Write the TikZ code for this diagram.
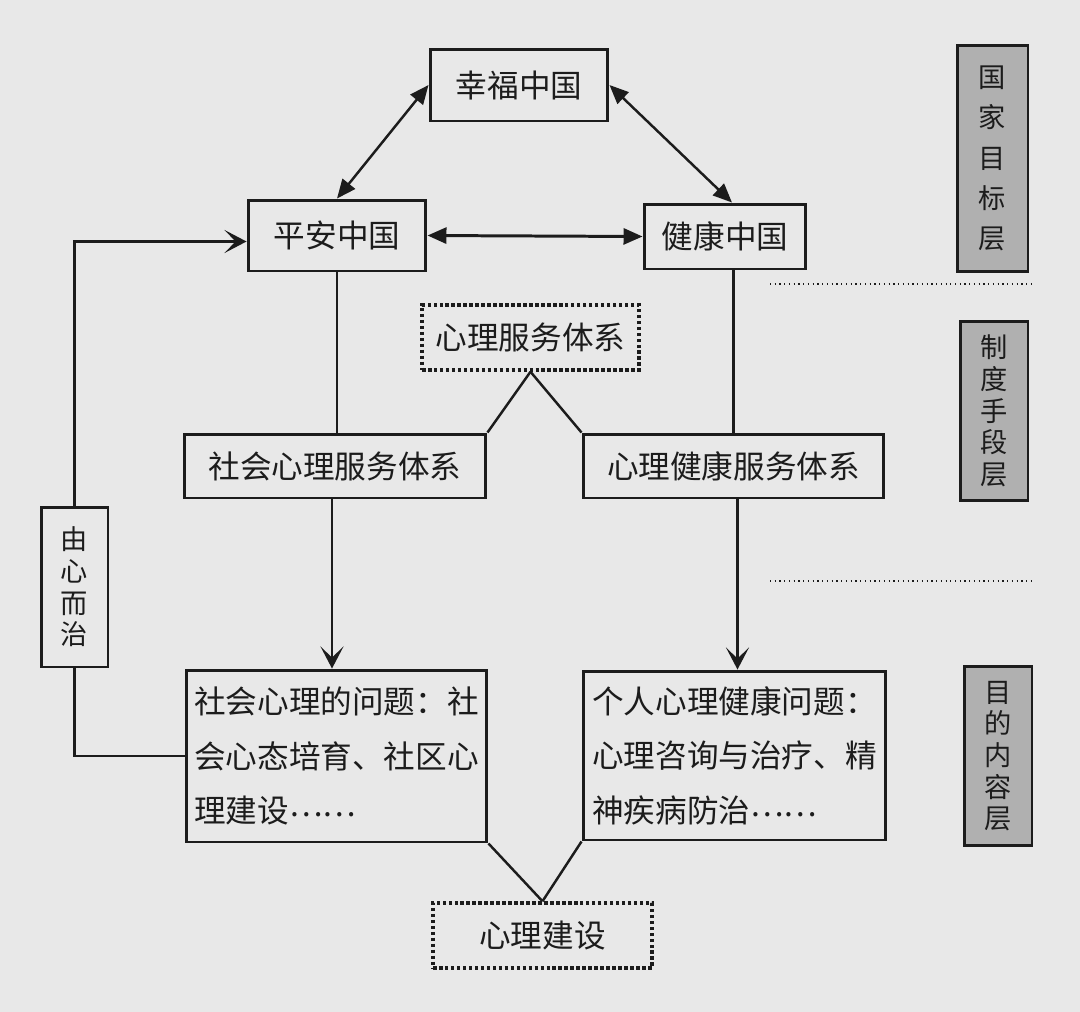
\documentclass[tikz,border=0pt]{standalone}
\usepackage{fontspec}
\setmainfont{Noto Sans CJK SC}
\usetikzlibrary{arrows.meta}
\definecolor{bgc}{RGB}{232,232,232}
\definecolor{layerc}{RGB}{176,176,176}
\definecolor{inkc}{RGB}{28,28,28}
\newcommand{\etcdots}{\raisebox{0.18em}{……}}
\tikzset{
  box/.style={draw=inkc, line width=1.7pt, fill=bgc, text=inkc, inner sep=0pt,
    font=\fontsize{18}{31}\selectfont},
  dotbox/.style={box, line width=2pt, dash pattern=on 2pt off 1.4pt},
  layer/.style={box, fill=layerc, align=center, font=\fontsize{15.5}{18}\selectfont},
  link/.style={draw=inkc, line width=1.4pt},
  both/.style={link, {Triangle[length=3.8mm,width=3.2mm]}-{Triangle[length=3.8mm,width=3.2mm]}},
  down/.style={link, -{Stealth[length=4.4mm,width=4.6mm,inset=2.2mm]}},
}

\begin{document}
\begin{tikzpicture}[x=0.02cm, y=-0.02cm]
    % background, one unit is one pixel of the reference
    \fill[bgc] (0,0) rectangle (1080,1012);
    \useasboundingbox (0,0) rectangle (1080,1012);

    % national goals
    \node[box, minimum width=3.56cm, minimum height=1.44cm] (xf) at (519,85) {幸福中国};
    \node[box, minimum width=3.56cm, minimum height=1.42cm] (pa) at (337,235.5) {平安中国};
    \node[box, minimum width=3.24cm, minimum height=1.30cm] (jk) at (725,236.5) {健康中国};

    % service systems
    \node[dotbox, minimum width=4.34cm, minimum height=1.30cm] (xlfw) at (530.5,337.5) {心理服务体系};
    \node[box, minimum width=6.04cm, minimum height=1.28cm] (shfw) at (335,466) {社会心理服务体系};
    \node[box, minimum width=6.02cm, minimum height=1.28cm] (jkfw) at (733.5,466) {心理健康服务体系};

    % contents
    \node[box, align=left, minimum width=6.02cm, minimum height=3.44cm] (shwt) at (336.5,756)
      {社会心理的问题：社\\会心态培育、社区心\\理建设\etcdots};
    \node[box, align=left, minimum width=6.06cm, minimum height=3.38cm] (grwt) at (734.5,755.5)
      {个人心理健康问题：\\心理咨询与治疗、精\\神疾病防治\etcdots};
    \node[dotbox, minimum width=4.38cm, minimum height=1.30cm] (xljs) at (542.5,935.5) {心理建设};

    \node[box, align=center, minimum width=1.34cm, minimum height=3.20cm,
      font=\fontsize{15.5}{18}\selectfont] (yxez) at (74.5,587) {由\\心\\而\\治};

    % layer labels
    \node[layer, minimum width=1.42cm, minimum height=4.54cm,
      font=\fontsize{15.5}{23}\selectfont] (gjmb) at (992.5,158.5) {国\\家\\目\\标\\层};
    \node[layer, minimum width=1.36cm, minimum height=3.60cm] (zdsd) at (994,411) {制\\度\\手\\段\\层};
    \node[layer, minimum width=1.36cm, minimum height=3.60cm] (mdnr) at (998,756) {目\\的\\内\\容\\层};
    \draw[inkc, line width=0.7pt, dotted] (770,284) -- (1032,284);
    \draw[inkc, line width=0.7pt, dotted] (770,581) -- (1032,581);

    % links
    \draw[both] (xf.west) -- (pa.north);
    \draw[both] (xf.east) -- ([xshift=0.14cm]jk.north);
    \draw[both, line width=1.7pt] (pa.east) -- (jk.west);
    \draw[link] (pa.south) -- (pa.south |- shfw.north);
    \draw[link] (jk.south -| jkfw.north) -- (jkfw.north);
    \draw[link] (xlfw.south) -- (shfw.north east);
    \draw[link] (xlfw.south) -- (jkfw.north west);
    \draw[down] ([xshift=-0.06cm]shfw.south) -- ([xshift=-0.06cm]shfw.south |- shwt.north);
    \draw[down] ([xshift=0.08cm]jkfw.south) -- ([xshift=0.08cm]jkfw.south |- grwt.north);
    \draw[link] (shwt.south east) -- (xljs.north);
    \draw[link] (grwt.south west) -- (xljs.north);
    \draw[link] (shwt.west) -| (yxez.south);
    \draw[down] (yxez.north) |- ([yshift=-0.12cm]pa.west);
\end{tikzpicture}
\end{document}
